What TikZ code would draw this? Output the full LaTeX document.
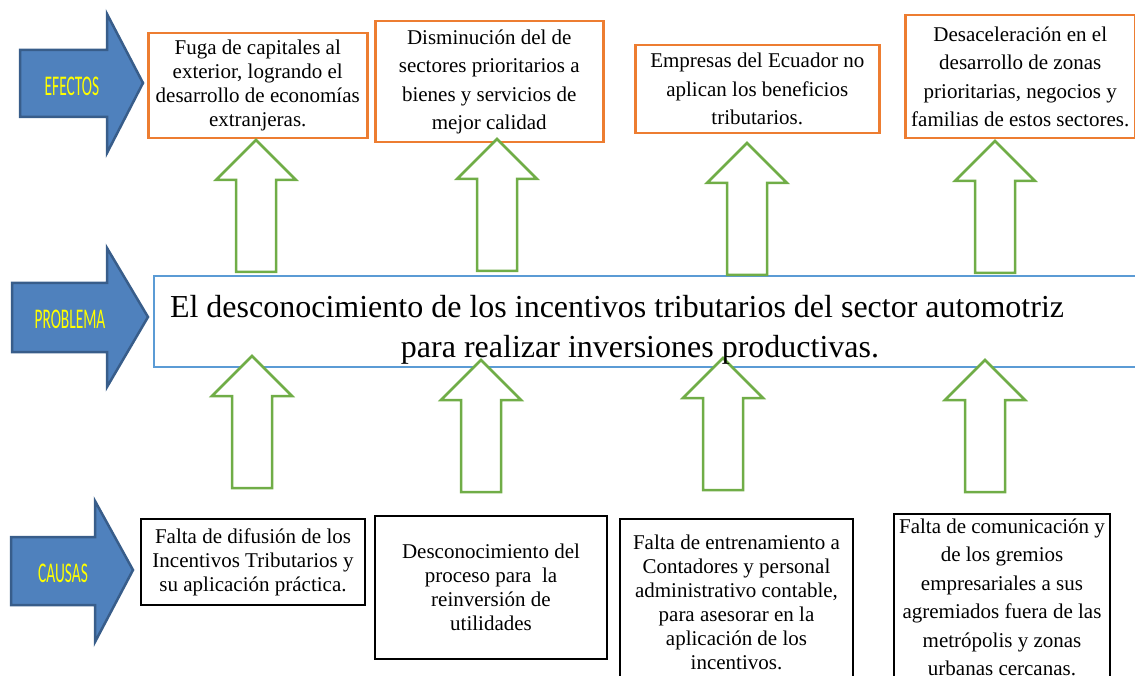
\documentclass[tikz,border=0pt]{standalone}
\usepackage{fontspec}
\usepackage{graphicx}
\setmainfont{Liberation Serif}
\newfontfamily\tagfont{Carlito}
\usetikzlibrary{positioning}
\definecolor{tagblue}{HTML}{4F81BD}
\definecolor{tagborder}{HTML}{385D8A}
\definecolor{tagyellow}{HTML}{FFFF00}
\definecolor{effectorange}{HTML}{ED7D31}
\definecolor{probblue}{HTML}{5B9BD5}
\definecolor{arrowgreen}{HTML}{70AD47}
\tikzset{
    tagarrow/.style={fill=tagblue, draw=tagborder, line width=2.5pt, line join=miter}, % big blue arrows on the left
    taglabel/.style={text=tagyellow, inner sep=0pt, font=\tagfont\fontsize{28.5}{28.5}\selectfont},
    box/.style={align=center, anchor=north west, inner sep=0pt, fill=white, font=\fontsize{21}{24}\selectfont},
    loose/.style={font=\fontsize{21}{28.5}\selectfont}, % wider line spacing
    effect/.style={box, draw=effectorange, line width=2.5pt},
    cause/.style={box, draw=black, line width=2pt},
    probbox/.style={draw=probblue, line width=2pt, anchor=north west, inner sep=0pt, fill=white},
    uparrow/.pic={\draw[draw=arrowgreen, line width=2.5pt, fill=white, line join=miter]
        (0,0) -- (40,40) -- (20,40) -- (20,132) -- (-20,132) -- (-20,40) -- (-40,40) -- cycle;},
}
\begin{document}
\begin{tikzpicture}[x=1pt, y=-1pt]
    \useasboundingbox (0,0) rectangle (1135,676);
    % left labels
    \draw[tagarrow] (20,50) -- (107,50) -- (107,14) -- (143,83) -- (107,153) -- (107,117) -- (20,117) -- cycle;
    \node[taglabel] (efectos) at (72,86) {\scalebox{0.54}[1]{EFECTOS}};
    \draw[tagarrow] (12,283) -- (107,283) -- (107,248) -- (148,317) -- (107,387) -- (107,352) -- (12,352) -- cycle;
    \node[taglabel] (problema) at (70,319) {\scalebox{0.54}[1]{PROBLEMA}};
    \draw[tagarrow] (11,537) -- (95,537) -- (95,501) -- (133,570) -- (95,642) -- (95,605) -- (11,605) -- cycle;
    \node[taglabel] (causas) at (63,573) {\scalebox{0.54}[1]{CAUSAS}};
    % effects
    \node[effect, minimum width=219pt, minimum height=105pt] (e1) at (147,32)
        {Fuga de capitales al\\exterior, logrando el\\desarrollo de economías\\extranjeras.};
    \node[effect, loose, minimum width=228pt, minimum height=121pt] (e2) at (374,20)
        {Disminución del de\\sectores prioritarios a\\bienes y servicios de\\mejor calidad};
    \node[effect, loose, minimum width=244pt, minimum height=88pt] (e3) at (634,44)
        {Empresas del Ecuador no\\aplican los beneficios\\tributarios.};
    \node[effect, loose, minimum width=230pt, minimum height=123pt] (e4) at (904,14)
        {Desaceleración en el\\desarrollo de zonas\\prioritarias, negocios y\\familias de estos sectores.};
    % problem
    \node[probbox, minimum width=997pt, minimum height=91pt] (prob) at (153,275) {};
    % causes
    \node[cause, minimum width=224pt, minimum height=86pt] (c1) at (140,518)
        {Falta de difusión de los\\Incentivos Tributarios y\\su aplicación práctica.};
    \node[cause, minimum width=232pt, minimum height=143pt] (c2) at (374,515)
        {Desconocimiento del\\proceso para\ \ la\\reinversión de\\utilidades};
    \node[cause, minimum width=233pt, minimum height=166pt] (c3) at (619,518)
        {Falta de entrenamiento a\\Contadores y personal\\administrativo contable,\\para asesorar en la\\aplicación de los\\incentivos.};
    \node[cause, loose, minimum width=216pt, minimum height=167pt] (c4) at (893,513)
        {Falta de comunicación y\\de los gremios\\empresariales a sus\\agremiados fuera de las\\metrópolis y zonas\\urbanas cercanas.};
    % arrows
    \pic (a1) at (256,140) {uparrow};
    \pic (a2) at (497,139) {uparrow};
    \pic (a3) at (747,143) {uparrow};
    \pic (a4) at (995,141) {uparrow};
    \pic (b1) at (252,356) {uparrow};
    \pic (b2) at (481,360) {uparrow};
    \pic (b3) at (723,358) {uparrow};
    \pic (b4) at (985,360) {uparrow};
    \node[align=center, inner sep=0pt, font=\fontsize{32}{40}\selectfont] (probtext) at (617,330)
        {El desconocimiento de los incentivos tributarios del sector automotriz\\\hspace*{46pt}para realizar inversiones productivas.};
\end{tikzpicture}
\end{document}
